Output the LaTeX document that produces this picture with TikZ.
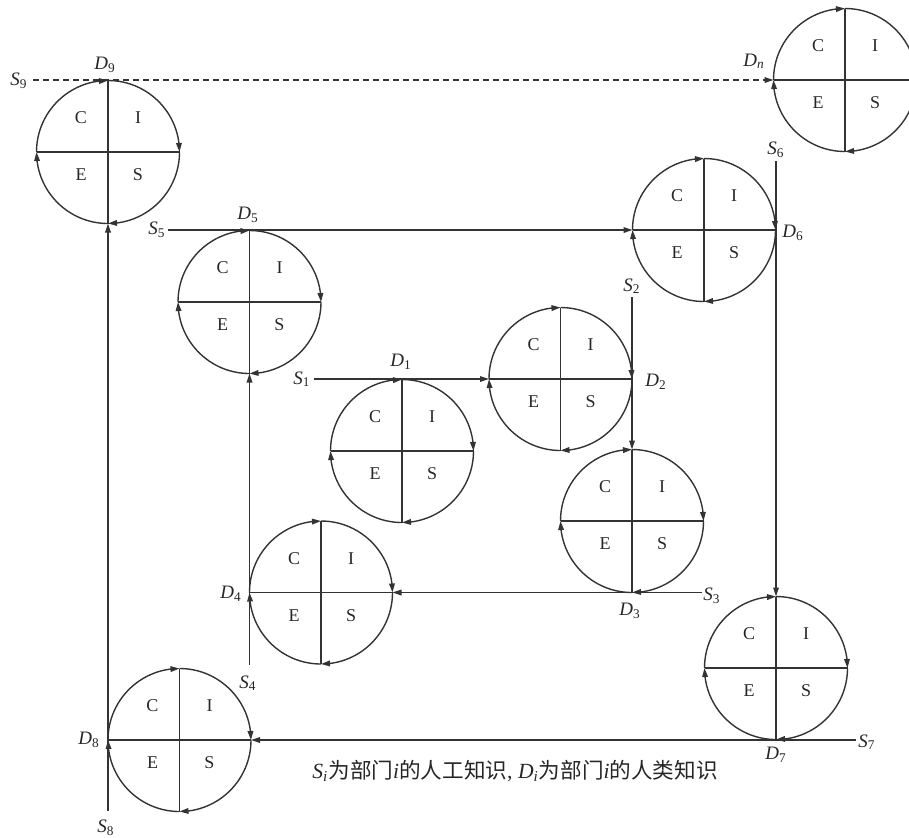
\documentclass[tikz,border=0pt]{standalone}
\usepackage{fontspec}
\setmainfont{Liberation Serif}
\newfontfamily\cjk{Noto Sans CJK SC}
\usetikzlibrary{arrows.meta,bending}
\tikzset{
  ln/.style={draw=black!80, line width=0.7pt},
  cyc/.style={circle, draw=none, inner sep=0pt, outer sep=0pt, minimum size=71.5pt},
  quad/.style={font=\fontsize{9}{10}\selectfont, text=black!85, inner sep=0pt},
  lab/.style={font=\fontsize{9.5}{11}\selectfont, text=black!85, inner sep=0pt},
}
\newcommand\lbl[2]{\textit{#1}\textsubscript{#2}}
\newcommand\kc[3]{%
  \node[cyc] (#1) at (#2,#3) {};
  \draw[ln] (#1.north) -- (#1.south);
  \draw[ln] (#1.west) -- (#1.east);
  \draw[ln,->] (#1.west) arc[start angle=180,end angle=90,radius=71.5];
  \draw[ln,->] (#1.north) arc[start angle=90,end angle=0,radius=71.5];
  \draw[ln,->] (#1.east) arc[start angle=0,end angle=-90,radius=71.5];
  \draw[ln,->] (#1.south) arc[start angle=-90,end angle=-180,radius=71.5];
  \node[quad] (#1C) at ({#2-27},{#3+34}) {C};
  \node[quad] (#1I) at ({#2+30},{#3+34}) {I};
  \node[quad] (#1E) at ({#2-27},{#3-23}) {E};
  \node[quad] (#1S) at ({#2+30},{#3-23}) {S};
}
\begin{document}
\begin{tikzpicture}[x=0.5pt,y=0.5pt,>={Triangle[length=4.5pt,width=2.8pt]}]
\useasboundingbox (0,0) rectangle (909,-837);
\clip (0,0) rectangle (909,-837);

% cycles
\kc{c9}{108}{-152}
\kc{cn}{845}{-80}
\kc{c5}{249.5}{-302}
\kc{c6}{704}{-230}
\kc{c1}{402}{-451}
\kc{c2}{560.5}{-379}
\kc{c3}{632}{-521}
\kc{c4}{321}{-592.5}
\kc{c8}{179.5}{-740}
\kc{c7}{776}{-668}

% connector start points
\coordinate (s9) at (33,-80);
\coordinate (s5) at (168,-230);
\coordinate (s1) at (314,-379);
\coordinate (s2) at (632,-297);
\coordinate (s6) at (776,-161);
\coordinate (s3) at (702,-592.5);
\coordinate (s4) at (249.5,-665);
\coordinate (s7) at (856,-740);
\coordinate (s8) at (108,-811);

% connectors
\draw[ln,->,dash pattern=on 3pt off 2pt] (s9) -- (cn.west);
\draw[ln,->] (s5) -- (c6.west);
\draw[ln,->] (s1) -- (c2.west);
\draw[ln,->] (s2) -- (c3.north);
\draw[ln,->] (s6) -- (c7.north);
\draw[ln,->] (s3) -- (c4.east);
\draw[ln,->] (s4) -- (c5.south);
\draw[ln,->] (s7) -- (c8.east);
\draw[ln,->] (s8) -- (c9.south);

% S labels
\node[lab] (S9) at (19,-81) {\lbl{S}{9}};
\node[lab] (S5) at (157,-230) {\lbl{S}{5}};
\node[lab] (S1) at (302,-379) {\lbl{S}{1}};
\node[lab] (S2) at (632,-286) {\lbl{S}{2}};
\node[lab] (S6) at (776,-150) {\lbl{S}{6}};
\node[lab] (S3) at (712,-596) {\lbl{S}{3}};
\node[lab] (S4) at (248,-683) {\lbl{S}{4}};
\node[lab] (S7) at (867,-742) {\lbl{S}{7}};
\node[lab] (S8) at (106,-828) {\lbl{S}{8}};

% D labels
\node[lab] (D9) at (105,-65) {\lbl{D}{9}};
\node[lab] (Dn) at (754,-61) {\lbl{D}{\textit{n}}};
\node[lab] (D5) at (248,-215) {\lbl{D}{5}};
\node[lab] (D6) at (793,-233) {\lbl{D}{6}};
\node[lab] (D1) at (401,-362) {\lbl{D}{1}};
\node[lab] (D2) at (656,-382) {\lbl{D}{2}};
\node[lab] (D3) at (630,-611) {\lbl{D}{3}};
\node[lab] (D4) at (231,-594) {\lbl{D}{4}};
\node[lab] (D7) at (776,-755) {\lbl{D}{7}};
\node[lab] (D8) at (89,-740) {\lbl{D}{8}};

% caption
\node[lab, font=\fontsize{10.8}{13}\selectfont] (cap) at (515,-771)
  {\lbl{S}{\textit{i}}{\cjk 为部门}\textit{i}{\cjk 的人工知识}, \lbl{D}{\textit{i}}{\cjk 为部门}\textit{i}{\cjk 的人类知识}};
\end{tikzpicture}
\end{document}
